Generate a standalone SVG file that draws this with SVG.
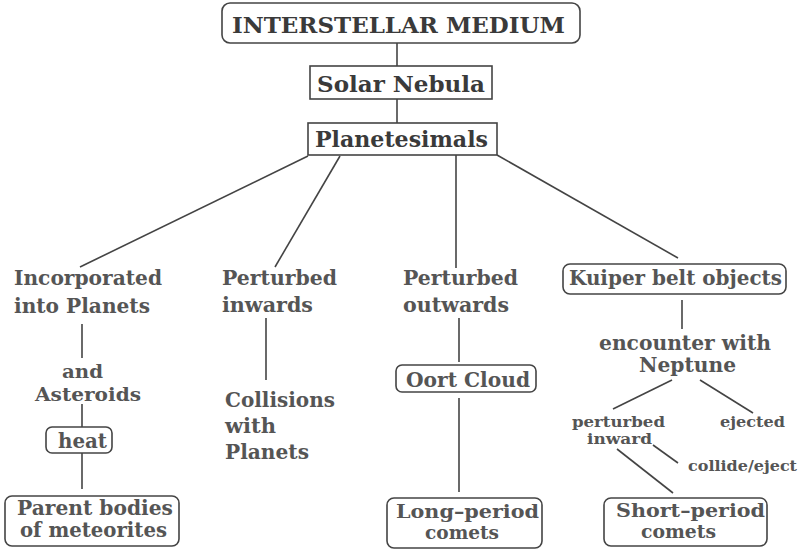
<svg xmlns="http://www.w3.org/2000/svg" width="800" height="549" viewBox="0 0 800 549">
<style>
.bg{fill:#fff}
.box{fill:#fff;stroke:#444;stroke-width:1.6}
.ln{stroke:#444;stroke-width:1.6;fill:none}
text{font-family:"DejaVu Serif","Liberation Serif",serif;font-weight:bold;fill:#555;font-size:20px}
.top{fill:#3a3a3a;font-size:23px}
.sm{font-size:15px}
.tight{font-size:19px}
</style>
<rect class="bg" x="0" y="0" width="800" height="549"/>
<g id="connectors">
<line class="ln" x1="397" y1="43" x2="397" y2="66"/>
<line class="ln" x1="397" y1="99" x2="397" y2="123"/>
<line class="ln" x1="308" y1="156" x2="80" y2="267"/>
<line class="ln" x1="340" y1="156" x2="275" y2="267"/>
<line class="ln" x1="456" y1="155" x2="456" y2="268"/>
<line class="ln" x1="497" y1="155" x2="678" y2="258"/>
<line class="ln" x1="82" y1="324" x2="82" y2="358"/>
<line class="ln" x1="82" y1="404" x2="82" y2="427"/>
<line class="ln" x1="82" y1="453" x2="82" y2="489"/>
<line class="ln" x1="266" y1="318" x2="266" y2="380"/>
<line class="ln" x1="459" y1="318" x2="459" y2="362"/>
<line class="ln" x1="459" y1="398" x2="459" y2="492"/>
<line class="ln" x1="682" y1="300" x2="682" y2="329"/>
<line class="ln" x1="672" y1="380" x2="613" y2="409"/>
<line class="ln" x1="700" y1="380" x2="753" y2="413"/>
<line class="ln" x1="653" y1="445" x2="678" y2="463"/>
<line class="ln" x1="617" y1="449" x2="673" y2="493"/>
</g>
<g id="interstellar">
<rect class="box" x="222" y="3" width="358" height="40" rx="8"/>
<text class="top" x="232" y="33" textLength="333" lengthAdjust="spacingAndGlyphs">INTERSTELLAR  MEDIUM</text>
</g>
<g id="solar">
<rect class="box" x="310" y="66" width="182" height="33"/>
<text class="top" x="317" y="92" textLength="168" lengthAdjust="spacingAndGlyphs">Solar Nebula</text>
</g>
<g id="planetesimals">
<rect class="box" x="308" y="123" width="189" height="32"/>
<text class="top" x="315" y="147" textLength="173" lengthAdjust="spacingAndGlyphs">Planetesimals</text>
</g>
<g id="incorporated">
<text x="14" y="285" textLength="148" lengthAdjust="spacingAndGlyphs">Incorporated</text>
<text x="14" y="313" textLength="136" lengthAdjust="spacingAndGlyphs">into Planets</text>
</g>
<g id="asteroids">
<text class="tight" x="62" y="378" textLength="41" lengthAdjust="spacingAndGlyphs">and</text>
<text class="tight" x="35" y="401" textLength="106" lengthAdjust="spacingAndGlyphs">Asteroids</text>
</g>
<g id="heat">
<rect class="box" x="46" y="427" width="66" height="26" rx="6"/>
<text x="58" y="448" textLength="49" lengthAdjust="spacingAndGlyphs">heat</text>
</g>
<g id="parent">
<rect class="box" x="5" y="496" width="174" height="50" rx="7"/>
<text x="17" y="515" textLength="156" lengthAdjust="spacingAndGlyphs">Parent bodies</text>
<text x="20" y="537" textLength="147" lengthAdjust="spacingAndGlyphs">of meteorites</text>
</g>
<g id="inwards">
<text x="222" y="285" textLength="115" lengthAdjust="spacingAndGlyphs">Perturbed</text>
<text x="222" y="312" textLength="91" lengthAdjust="spacingAndGlyphs">inwards</text>
</g>
<g id="collisions">
<text x="225" y="407" textLength="110" lengthAdjust="spacingAndGlyphs">Collisions</text>
<text x="225" y="433" textLength="51" lengthAdjust="spacingAndGlyphs">with</text>
<text x="225" y="459" textLength="84" lengthAdjust="spacingAndGlyphs">Planets</text>
</g>
<g id="outwards">
<text x="403" y="285" textLength="115" lengthAdjust="spacingAndGlyphs">Perturbed</text>
<text x="403" y="312" textLength="106" lengthAdjust="spacingAndGlyphs">outwards</text>
</g>
<g id="oort">
<rect class="box" x="396" y="365" width="140" height="27" rx="6"/>
<text x="406" y="387" textLength="124" lengthAdjust="spacingAndGlyphs">Oort Cloud</text>
</g>
<g id="longperiod">
<rect class="box" x="387" y="498" width="155" height="50" rx="7"/>
<text class="tight" x="396" y="518" textLength="143" lengthAdjust="spacingAndGlyphs">Long–period</text>
<text class="tight" x="425" y="539" textLength="74" lengthAdjust="spacingAndGlyphs">comets</text>
</g>
<g id="kuiper">
<rect class="box" x="563" y="264" width="223" height="30" rx="7"/>
<text x="569" y="285" textLength="213" lengthAdjust="spacingAndGlyphs">Kuiper belt objects</text>
</g>
<g id="encounter">
<text x="599" y="350" textLength="172" lengthAdjust="spacingAndGlyphs">encounter with</text>
<text x="639" y="372" textLength="97" lengthAdjust="spacingAndGlyphs">Neptune</text>
</g>
<g id="perturbedinward">
<text class="sm" x="572" y="427" textLength="93" lengthAdjust="spacingAndGlyphs">perturbed</text>
<text class="sm" x="587" y="444" textLength="65" lengthAdjust="spacingAndGlyphs">inward</text>
</g>
<g id="ejected">
<text class="sm" x="720" y="427" textLength="65" lengthAdjust="spacingAndGlyphs">ejected</text>
</g>
<g id="collide">
<text class="sm" x="688" y="471" textLength="109" lengthAdjust="spacingAndGlyphs">collide/eject</text>
</g>
<g id="shortperiod">
<rect class="box" x="604" y="498" width="163" height="48" rx="7"/>
<text class="tight" x="616" y="517" textLength="149" lengthAdjust="spacingAndGlyphs">Short–period</text>
<text class="tight" x="641" y="538" textLength="75" lengthAdjust="spacingAndGlyphs">comets</text>
</g>
</svg>
